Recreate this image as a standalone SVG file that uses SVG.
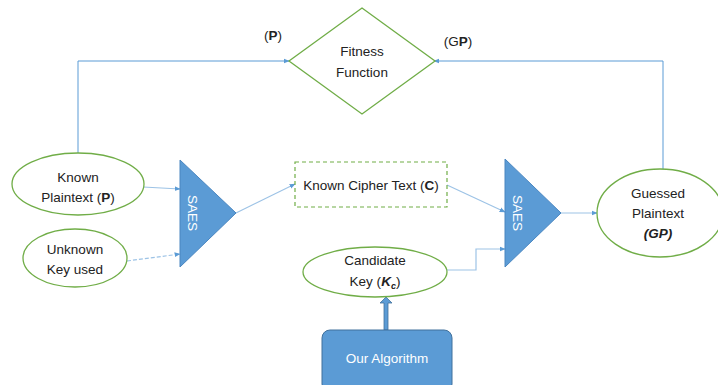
<svg xmlns="http://www.w3.org/2000/svg" width="718" height="385" viewBox="0 0 718 385">
<defs>
<style>
.t{font-family:"Liberation Sans",Arial,sans-serif;font-size:13.5px;fill:#222;text-anchor:middle}
.w{fill:#fff}
.node{fill:#fff;stroke:#70ad47;stroke-width:1.3}
.tri{fill:#5b9bd5;stroke:#4a86c0;stroke-width:1}
.c{fill:none;stroke:#5b9bd5;stroke-width:1}
.cl{fill:none;stroke:#9dc3e6;stroke-width:1.2}
</style>
<marker id="a" viewBox="0 0 10 10" refX="9" refY="5" markerWidth="6" markerHeight="6" orient="auto" markerUnits="userSpaceOnUse"><path d="M0,1 L10,5 L0,9 z" fill="#5b9bd5"/></marker>
</defs>
<rect width="718" height="385" fill="#fff"/>
<g id="connectors">
<path class="c" d="M78,153 V61 H289" marker-end="url(#a)"/>
<path class="c" d="M663,170 V61 H434" marker-end="url(#a)"/>
<path class="cl" d="M143,187 L180,189" marker-end="url(#a)"/>
<path class="cl" d="M127,261 L180,254" stroke-dasharray="4,2" marker-end="url(#a)"/>
<path class="cl" d="M236,213 L295,184" marker-end="url(#a)"/>
<path class="cl" d="M447,185 L505,212" marker-end="url(#a)"/>
<path class="cl" d="M447,270 H476 V249 H505" marker-end="url(#a)"/>
<path class="cl" d="M561,213 H597" marker-end="url(#a)"/>
<path d="M384,330 V303 H380 L386,297 L392,303 H388 V330 z" fill="#5b9bd5" stroke="#41719c" stroke-width="0.8"/>
</g>
<g id="fitness">
<polygon class="node" points="362,8 435,61 362,114 289,61"/>
<text class="t" x="362" y="56">Fitness</text>
<text class="t" x="362" y="77">Function</text>
</g>
<g id="labelP"><text class="t" x="273" y="40">(<tspan font-weight="bold">P</tspan>)</text></g>
<g id="labelGP"><text class="t" x="458" y="46">(G<tspan font-weight="bold">P</tspan>)</text></g>
<g id="known-plaintext">
<ellipse class="node" cx="78" cy="184" rx="66" ry="31"/>
<text class="t" x="78" y="182">Known</text>
<text class="t" x="78" y="202">Plaintext (<tspan font-weight="bold">P</tspan>)</text>
</g>
<g id="unknown-key">
<ellipse class="node" cx="75" cy="258" rx="52" ry="29"/>
<text class="t" x="75" y="254">Unknown</text>
<text class="t" x="75" y="274">Key used</text>
</g>
<g id="saes1">
<polygon class="tri" points="180,160 236,213 180,267"/>
<text class="t w" transform="translate(192,213) rotate(90)" y="4" font-size="14">SAES</text>
</g>
<g id="cipher">
<rect x="295" y="162" width="152" height="45" fill="#fff" stroke="#70ad47" stroke-width="1.2" stroke-dasharray="4,3"/>
<text class="t" x="371" y="190">Known Cipher Text (<tspan font-weight="bold">C</tspan>)</text>
</g>
<g id="saes2">
<polygon class="tri" points="505,159 561,213 505,267"/>
<text class="t w" transform="translate(517,213) rotate(90)" y="4" font-size="14">SAES</text>
</g>
<g id="guessed">
<ellipse class="node" cx="660" cy="213" rx="63" ry="44"/>
<text class="t" x="658" y="198">Guessed</text>
<text class="t" x="658" y="218">Plaintext</text>
<text class="t" x="658" y="238" font-weight="bold" font-style="italic">(GP)</text>
</g>
<g id="candidate">
<ellipse class="node" cx="375" cy="272" rx="72" ry="25"/>
<text class="t" x="375" y="265">Candidate</text>
<text class="t" x="375" y="286">Key (<tspan font-weight="bold" font-style="italic">K<tspan font-size="9" dy="3">c</tspan></tspan><tspan dy="-3">)</tspan></text>
</g>
<g id="algorithm">
<rect x="322" y="330" width="130" height="62" rx="8" fill="#5b9bd5" stroke="#41719c" stroke-width="1"/>
<text class="t w" x="387" y="363">Our Algorithm</text>
</g>
</svg>
